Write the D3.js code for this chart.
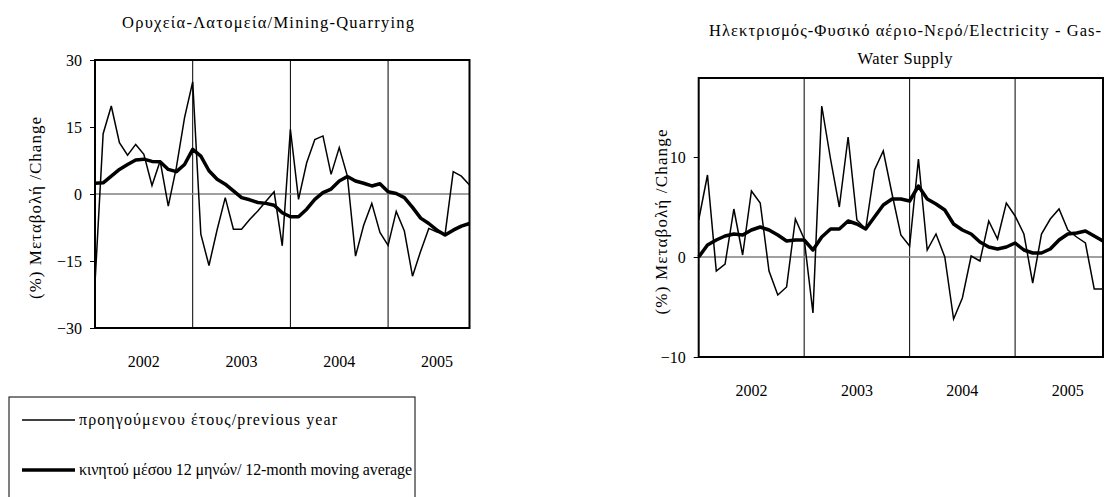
<!DOCTYPE html>
<html>
<head>
<meta charset="utf-8">
<script src="https://cdn.jsdelivr.net/npm/d3@7"></script>
<style>
  body { margin: 0; background: #fff; }
</style>
</head>
<body>
<div id="chart"></div>
<script>
// years shown on the category axis, monthly points from Jan 2002
const years = ["2002", "2003", "2004", "2005"];
const nPoints = 47;

// Mining-Quarrying: % change on previous year and 12-month moving average
const miningYoY = [-20, 13.5, 19.7, 11.5, 8.7, 11.1, 8.9, 1.9, 7.4, -2.7,
  6, 17.1, 25.1, -9.0, -16.0, -8, -0.8, -7.9, -7.9, -5.7,
  -3.8, -1.6, 0.5, -11.6, 14.5, -1.2, 7, 12.2, 13.0, 4.4,
  10.4, 4.0, -13.9, -7, -2.1, -8.6, -11.5, -3.9, -8.3, -18.4,
  -12.8, -7.7, -8.5, -9.0, 5.0, 4.0, 2.0];
const miningMA = [2.4, 2.5, 4.0, 5.5, 6.6, 7.6, 7.8, 7.3, 7.2, 5.5,
  5.0, 6.6, 10.0, 8.5, 5.2, 3.3, 2.2, 0.7, -0.8, -1.3,
  -1.9, -2.1, -2.5, -4.2, -5.1, -5.1, -3.4, -1.2, 0.3, 1.1,
  2.9, 3.9, 2.9, 2.4, 1.8, 2.3, 0.5, 0.1, -0.8, -3.0,
  -5.4, -6.6, -8.1, -9.2, -8.1, -7.2, -6.6];

// Electricity - Gas - Water Supply
const elecYoY = [3.7, 8.2, -1.4, -0.7, 4.8, 0.2, 6.6, 5.4, -1.4, -3.8,
  -3.0, 3.8, 1.8, -5.6, 15.1, 9.8, 5.0, 12.0, 3.7, 2.8,
  8.7, 10.6, 6.3, 2.2, 1.1, 9.8, 0.7, 2.3, 0.0, -6.2,
  -4.1, 0.1, -0.4, 3.6, 1.8, 5.4, 4.1, 2.3, -2.6, 2.3,
  3.8, 4.8, 2.7, 2.0, 1.4, -3.2, -3.2];
const elecMA = [0.0, 1.2, 1.7, 2.1, 2.3, 2.2, 2.7, 3.0, 2.7, 2.2,
  1.6, 1.7, 1.7, 0.7, 2.0, 2.8, 2.8, 3.6, 3.3, 2.8,
  4.0, 5.2, 5.8, 5.8, 5.6, 7.1, 5.8, 5.3, 4.7, 3.3,
  2.7, 2.3, 1.5, 1.0, 0.8, 1.0, 1.4, 0.7, 0.4, 0.4,
  0.8, 1.7, 2.3, 2.4, 2.6, 2.1, 1.6];

const miningTicks = [-30, -15, 0, 15, 30];
const elecTicks = [-10, 0, 10];

const yTitle = "(%) Μεταβολή /Change";
const legendLabels = ["προηγούμενου έτους/previous year",
  "κινητού μέσου 12 μηνών/ 12-month moving average"];

const serif = '"Liberation Serif", "Times New Roman", serif';
const width = 1112, height = 497;
const svg = d3.select("#chart").append("svg")
  .attr("width", width)
  .attr("height", height)
  .style("font-family", serif);

// draw one panel
const drawPanel = (opt) => {
  const x = d3.scaleLinear().domain([0, nPoints - 1]).range([opt.left, opt.right]);
  const y = d3.scaleLinear().domain(opt.domain).range([opt.bottom, opt.top]);
  const g = svg.append("g");

  // title lines (stretched to the widths seen in the picture)
  opt.title.forEach((t, k) => {
    g.append("text")
      .attr("x", opt.titleX)
      .attr("y", opt.titleY + k * 28)
      .attr("text-anchor", "middle")
      .attr("font-size", 16.5)
      .attr("textLength", opt.titleLen[k])
      .attr("lengthAdjust", "spacing")
      .style("font-family", serif)
      .text(t);
  });

  // year separators
  g.append("g").selectAll("line")
    .data([12, 24, 36])
    .join("line")
    .attr("x1", d => x(d)).attr("x2", d => x(d))
    .attr("y1", opt.top).attr("y2", opt.bottom)
    .attr("stroke", "#000").attr("stroke-width", 1);

  // zero line
  g.append("line")
    .attr("x1", opt.left).attr("x2", opt.right)
    .attr("y1", y(0)).attr("y2", y(0))
    .attr("stroke", "#808080").attr("stroke-width", 1.5);

  // y axis
  const yAxis = d3.axisLeft(y).tickValues(opt.ticks).tickSize(5).tickPadding(8);
  const ya = g.append("g")
    .attr("transform", `translate(${opt.left},0)`)
    .call(yAxis)
    .style("font-family", serif)
    .attr("font-size", 16);
  ya.select(".domain").remove();
  ya.selectAll("text").attr("fill", "#000");
  ya.selectAll("line").attr("stroke", "#000");

  // year labels
  g.append("g").selectAll("text")
    .data(years)
    .join("text")
    .attr("x", (d, k) => x(12 * k + 6))
    .attr("y", opt.bottom + 39)
    .attr("text-anchor", "middle")
    .attr("font-size", 16)
    .style("font-family", serif)
    .text(d => d);

  // y title
  g.append("text")
    .attr("transform", `translate(${opt.yTitleX},${opt.yTitleY}) rotate(-90)`)
    .attr("text-anchor", "middle")
    .attr("font-size", 17)
    .attr("textLength", opt.yTitleLen)
    .attr("lengthAdjust", "spacing")
    .style("font-family", serif)
    .text(yTitle);

  const line = d3.line().x((d, i) => x(i)).y(d => y(d));

  g.append("path")
    .attr("d", line(opt.yoy))
    .attr("fill", "none").attr("stroke", "#000").attr("stroke-width", 1.5)
    .attr("stroke-linejoin", "miter");
  g.append("path")
    .attr("d", line(opt.ma))
    .attr("fill", "none").attr("stroke", "#000").attr("stroke-width", 3.5)
    .attr("stroke-linejoin", "round");

  // frame
  g.append("rect")
    .attr("x", opt.left).attr("y", opt.top)
    .attr("width", opt.right - opt.left).attr("height", opt.bottom - opt.top)
    .attr("fill", "none").attr("stroke", "#000").attr("stroke-width", 2);
};

drawPanel({
  left: 95, right: 469.5, top: 60, bottom: 328,
  domain: [-30, 30], ticks: miningTicks,
  yoy: miningYoY, ma: miningMA,
  title: ["Ορυχεία-Λατομεία/Mining-Quarrying"],
  titleX: 268, titleY: 28, titleLen: [292],
  yTitleX: 41, yTitleY: 208, yTitleLen: 182
});

drawPanel({
  left: 698.7, right: 1103, top: 78, bottom: 357,
  domain: [-10, 17.9], ticks: elecTicks,
  yoy: elecYoY, ma: elecMA,
  title: ["Ηλεκτρισμός-Φυσικό αέριο-Νερό/Electricity - Gas-", "Water Supply"],
  titleX: 905, titleY: 36, titleLen: [392, 95],
  yTitleX: 667, yTitleY: 222, yTitleLen: 185
});

// legend
const legend = svg.append("g");
legend.append("rect")
  .attr("x", 9).attr("y", 397)
  .attr("width", 406).attr("height", 110)
  .attr("fill", "none").attr("stroke", "#000").attr("stroke-width", 1);

const legendLen = [258, 333];
legend.selectAll("g.item")
  .data(legendLabels)
  .join("g")
  .attr("class", "item")
  .attr("transform", (d, k) => `translate(0,${420 + k * 50})`)
  .each(function (d, k) {
    const it = d3.select(this);
    it.append("line")
      .attr("x1", 22).attr("x2", 75)
      .attr("stroke", "#000").attr("stroke-width", k === 0 ? 1.5 : 3.5);
    it.append("text")
      .attr("x", 79).attr("y", 5)
      .attr("font-size", 16)
      .attr("textLength", legendLen[k])
      .attr("lengthAdjust", "spacing")
      .style("font-family", serif)
      .text(d);
  });
</script>
</body>
</html>
